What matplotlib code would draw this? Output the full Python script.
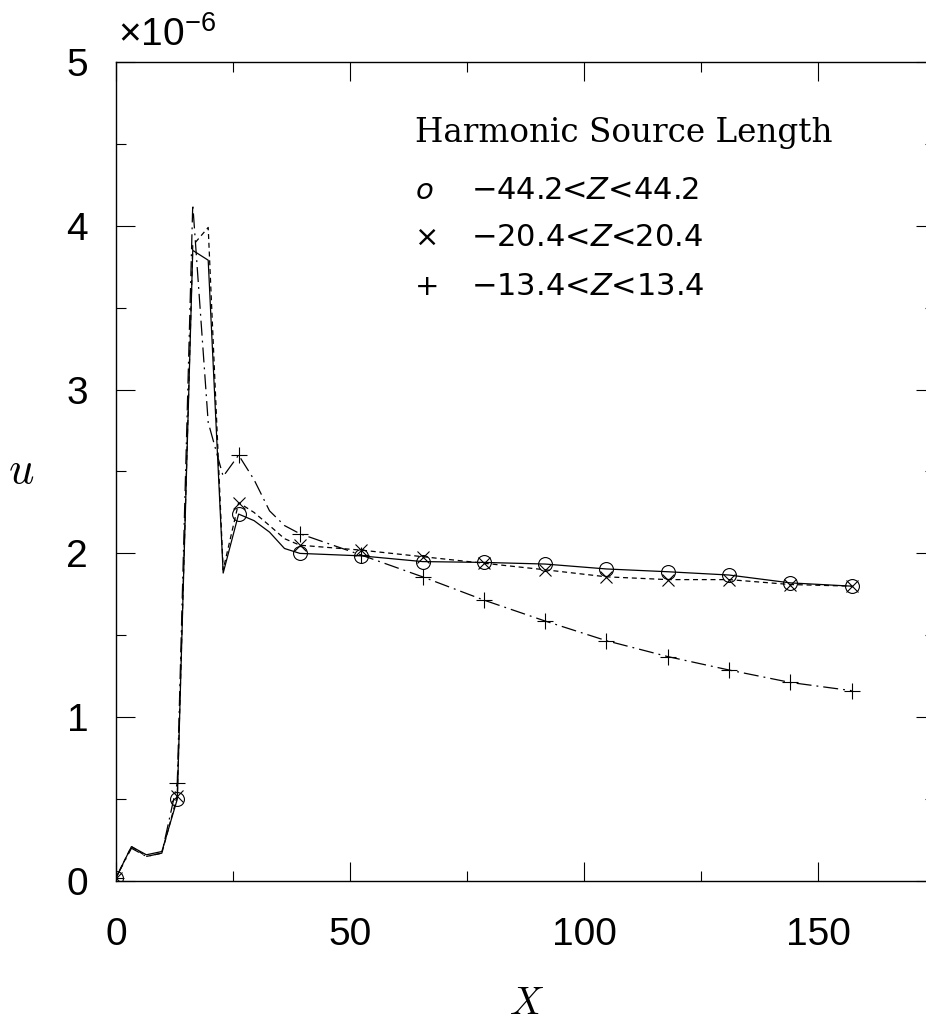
import matplotlib
matplotlib.use("Agg")
import matplotlib.pyplot as plt
import matplotlib.ticker as mticker

plt.rcParams["mathtext.fontset"] = "custom"
plt.rcParams["mathtext.rm"] = "Liberation Sans"
plt.rcParams["mathtext.it"] = "DejaVu Sans:italic"

# X positions (markers drawn at every 13.1 units, intermediate vertices unmarked)
x = [0, 3.3, 6.5, 9.8, 13.1, 16.4, 19.7, 22.9, 26.2, 29.5, 32.8, 36.0, 39.3,
     52.4, 65.5, 78.6, 91.7, 104.8, 117.9, 131.0, 144.1, 157.2]
mark_idx = [0, 4, 8, 12, 13, 14, 15, 16, 17, 18, 19, 20, 21]

# u in units of 1e-6
u_442 = [0.02, 0.21, 0.16, 0.18, 0.50, 3.85, 3.79, 1.88, 2.24, 2.20, 2.13, 2.03, 2.00,
         1.985, 1.95, 1.945, 1.935, 1.905, 1.888, 1.868, 1.82, 1.80]
u_204 = [0.02, 0.21, 0.15, 0.17, 0.52, 3.88, 3.99, 1.90, 2.31, 2.25, 2.17, 2.09, 2.05,
         2.02, 1.98, 1.94, 1.90, 1.857, 1.84, 1.84, 1.81, 1.80]
u_134 = [0.02, 0.20, 0.15, 0.17, 0.60, 4.13, 2.80, 2.47, 2.60, 2.45, 2.26, 2.17, 2.12,
         1.99, 1.857, 1.715, 1.587, 1.467, 1.37, 1.288, 1.212, 1.162]

legend_rows = [("$o$", "\u221244.2<$Z$<44.2"),
               ("\u00d7", "\u221220.4<$Z$<20.4"),
               ("+", "\u221213.4<$Z$<13.4")]

W, H = 926, 1026
fig = plt.figure(figsize=(W / 100, H / 100), dpi=100)
ax = fig.add_axes([116 / W, 145 / H, 819 / W, 819 / H])

ax.plot(x, u_442, "-", color="black", lw=0.9, marker="o", markevery=mark_idx,
        ms=10, mfc="none", mec="black", mew=0.8)
ax.plot(x, u_204, color="black", lw=0.9, dashes=(4, 3), marker="x", markevery=mark_idx,
        ms=9, mec="black", mew=0.8)
ax.plot(x, u_134, color="black", lw=0.9, dashes=(12, 4, 1.5, 4), marker="+",
        markevery=mark_idx, ms=11, mec="black", mew=0.8)

ax.set_xlim(0, 175)
ax.set_ylim(0, 5)
ax.xaxis.set_major_locator(mticker.MultipleLocator(50))
ax.xaxis.set_minor_locator(mticker.MultipleLocator(25))
ax.yaxis.set_major_locator(mticker.MultipleLocator(1))
ax.yaxis.set_minor_locator(mticker.MultipleLocator(0.5))
ax.tick_params(which="both", direction="in", top=True, right=True, width=0.8,
               colors="black", labelsize=28)
ax.tick_params(which="major", length=14)
ax.tick_params(which="minor", length=7)
ax.tick_params(axis="x", which="major", pad=26)
ax.tick_params(axis="y", which="major", pad=20)
for lab in ax.get_xticklabels() + ax.get_yticklabels():
    lab.set_family("Liberation Sans")
for sp in ax.spines.values():
    sp.set_linewidth(1.0)

ax.set_xlabel("X", family="cmmi10", fontsize=28, va="center")
ax.set_ylabel("u", family="cmmi10", fontsize=32, rotation=0, ha="center", va="center")
ax.xaxis.set_label_coords(0.5, -0.150)
ax.yaxis.set_label_coords(-0.115, 0.5)

fig.text(118 / W, 1 - 46 / H, r"$\mathregular{\times10^{-6}}$", fontsize=28,
         family="Liberation Sans", va="baseline")

ax.text(0.365, 0.902, "Harmonic Source Length", transform=ax.transAxes,
        family="DejaVu Serif", fontsize=23.5, va="baseline")
for i, (sym, lab) in enumerate(legend_rows):
    yb = [0.833, 0.775, 0.7155][i]
    ax.text(0.365, yb, sym, transform=ax.transAxes, family="DejaVu Sans",
            fontsize=21, va="baseline")
    ax.text(0.434, yb, lab, transform=ax.transAxes, family="DejaVu Sans",
            fontsize=22, va="baseline")

fig.savefig("out.png", dpi=100)
